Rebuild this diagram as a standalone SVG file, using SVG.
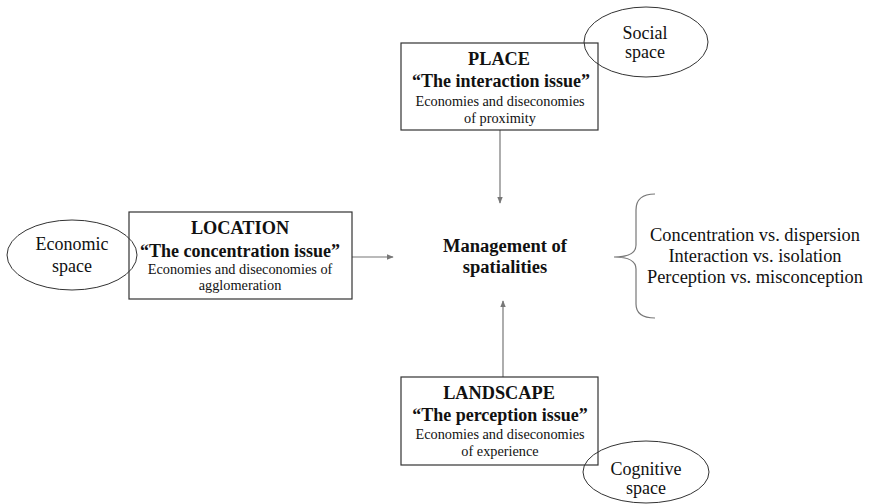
<svg xmlns="http://www.w3.org/2000/svg" width="869" height="504" viewBox="0 0 869 504" font-family="'Liberation Serif', 'DejaVu Serif', serif">
<style>
.box{fill:#fff;stroke:#333;stroke-width:1.2}
.ell{fill:none;stroke:#333;stroke-width:1}
text{font-family:'Liberation Serif','DejaVu Serif',serif;fill:#111;text-anchor:middle}
.h{font-weight:bold;font-size:18.3px}
.q{font-weight:bold;font-size:18px}
.s{font-size:14.3px}
.e{font-size:18px}
.m{font-weight:bold;font-size:18.5px}
.r{font-size:18.4px}
.c{stroke:#777;stroke-width:1.2;fill:none}
</style>
<defs>
<marker id="ah" viewBox="0 0 10 10" refX="9" refY="5" markerWidth="6" markerHeight="6" orient="auto">
<path d="M0,1 L10,5 L0,9 z" fill="#777"/>
</marker>
</defs>
<rect width="869" height="504" fill="#fff"/>
<g id="connectors">
<line class="c" x1="500" y1="130" x2="500" y2="203" marker-end="url(#ah)"/>
<line class="c" x1="352" y1="257" x2="393" y2="257" marker-end="url(#ah)"/>
<line class="c" x1="503" y1="377" x2="503" y2="301" marker-end="url(#ah)"/>
</g>
<g id="place">
<rect class="box" x="401" y="43" width="197" height="87"/>
<text class="h" x="499" y="65">PLACE</text>
<text class="q" x="501" y="87">“The interaction issue”</text>
<text class="s" x="500" y="106">Economies and diseconomies</text>
<text class="s" x="500" y="123">of proximity</text>
</g>
<g id="social">
<ellipse class="ell" cx="646" cy="42" rx="62" ry="35"/>
<text class="e" x="645" y="39">Social</text>
<text class="e" x="645" y="58">space</text>
</g>
<g id="location">
<rect class="box" x="129" y="212" width="223" height="87"/>
<text class="h" x="240" y="234">LOCATION</text>
<text class="q" x="240" y="257">“The concentration issue”</text>
<text class="s" x="240" y="274">Economies and diseconomies of</text>
<text class="s" x="240" y="290">agglomeration</text>
</g>
<g id="economic">
<ellipse class="ell" cx="72" cy="255" rx="65" ry="35"/>
<text class="e" x="72" y="250">Economic</text>
<text class="e" x="72" y="272">space</text>
</g>
<g id="landscape">
<rect class="box" x="401" y="377" width="197" height="88"/>
<text class="h" x="499" y="399">LANDSCAPE</text>
<text class="q" x="500" y="421">“The perception issue”</text>
<text class="s" x="500" y="439">Economies and diseconomies</text>
<text class="s" x="500" y="456">of experience</text>
</g>
<g id="cognitive">
<ellipse class="ell" cx="646" cy="472" rx="63" ry="31"/>
<text class="e" x="646" y="475">Cognitive</text>
<text class="e" x="646" y="494">space</text>
</g>
<g id="management">
<text class="m" x="505" y="252">Management of</text>
<text class="m" x="505" y="273">spatialities</text>
</g>
<g id="brace">
<path class="c" d="M655,194 Q636,194 636,210 L636,245 Q636,257 614,257 Q636,257 636,269 L636,304 Q636,318 655,318"/>
</g>
<g id="outcomes">
<text class="r" x="755" y="241">Concentration vs. dispersion</text>
<text class="r" x="755" y="262">Interaction vs. isolation</text>
<text class="r" x="755" y="283">Perception vs. misconception</text>
</g>
</svg>
